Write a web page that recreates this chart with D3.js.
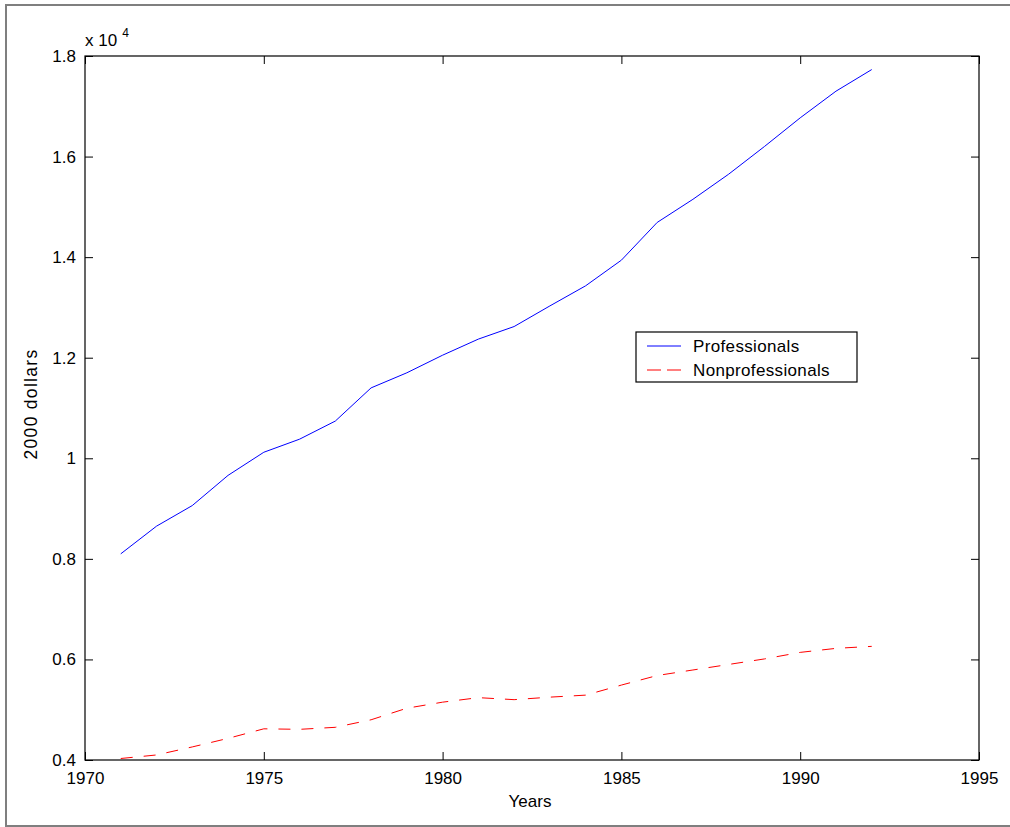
<!DOCTYPE html>
<html>
<head>
<meta charset="utf-8">
<style>
  body { margin: 0; background: #fff; }
  svg { font-family: 'Liberation Sans', Arial, sans-serif; }
  .tick text { font-size: 17px; fill: #000; }
  .axis .domain { display: none; }
  .axis line { stroke: #000; }
</style>
</head>
<body>
<svg width="1010" height="827"></svg>
<script src="https://d3js.org/d3.v7.min.js"></script>
<script>
// real earnings, 2000 dollars
const years = [1971, 1972, 1973, 1974, 1975, 1976, 1977, 1978, 1979, 1980, 1981,
               1982, 1983, 1984, 1985, 1986, 1987, 1988, 1989, 1990, 1991, 1992];
const professionals = [8100, 8650, 9060, 9660, 10120, 10380, 10740, 11400, 11700, 12050, 12370,
                       12620, 13030, 13430, 13940, 14690, 15150, 15650, 16200, 16770, 17300, 17730];
const nonprofessionals = [4030, 4100, 4260, 4430, 4620, 4610, 4650, 4800, 5030, 5150, 5240,
                          5200, 5250, 5290, 5490, 5680, 5790, 5900, 6010, 6140, 6220, 6260];
const xTicks = [1970, 1975, 1980, 1985, 1990, 1995];
const yTicks = [4000, 6000, 8000, 10000, 12000, 14000, 16000, 18000];

const svg = d3.select("svg");
const margin = { top: 56, left: 85 };
const width = 894, height = 704;

// figure border
svg.append("rect")
  .attr("x", 6).attr("y", 5)
  .attr("width", 1010).attr("height", 821)
  .attr("fill", "none").attr("stroke", "#7f7f7f").attr("stroke-width", 2);

const g = svg.append("g").attr("transform", `translate(${margin.left},${margin.top})`);

const x = d3.scaleLinear().domain([1970, 1995]).range([0, width]);
const y = d3.scaleLinear().domain([4000, 18000]).range([height, 0]);

const tickLen = 8;
const fmtY = d => d3.format("~g")(d / 10000);

g.append("g").attr("class", "axis")
  .attr("transform", `translate(0,${height})`)
  .call(d3.axisBottom(x).tickValues(xTicks).tickFormat(d3.format("d"))
    .tickSizeInner(-tickLen).tickSizeOuter(0).tickPadding(12));
g.append("g").attr("class", "axis")
  .call(d3.axisTop(x).tickValues(xTicks).tickFormat("")
    .tickSizeInner(-tickLen).tickSizeOuter(0));
g.append("g").attr("class", "axis")
  .call(d3.axisLeft(y).tickValues(yTicks).tickFormat(fmtY)
    .tickSizeInner(-tickLen).tickSizeOuter(0).tickPadding(9));
g.append("g").attr("class", "axis")
  .attr("transform", `translate(${width},0)`)
  .call(d3.axisRight(y).tickValues(yTicks).tickFormat("")
    .tickSizeInner(-tickLen).tickSizeOuter(0));

g.append("rect")
  .attr("width", width).attr("height", height)
  .attr("fill", "none").attr("stroke", "#000").attr("stroke-width", 1.2);

const line = d3.line().x(d => x(d[0])).y(d => y(d[1]));

g.append("path")
  .datum(d3.zip(years, professionals))
  .attr("d", line)
  .attr("fill", "none").attr("stroke", "#0000ff").attr("stroke-width", 1);

g.append("path")
  .datum(d3.zip(years, nonprofessionals))
  .attr("d", line)
  .attr("fill", "none").attr("stroke", "#ff0000").attr("stroke-width", 1)
  .attr("stroke-dasharray", "12,11");

// exponent label
const ex = svg.append("text")
  .attr("x", 85).attr("y", 46)
  .style("font-size", "17px");
ex.append("tspan").text("x 10");
ex.append("tspan").attr("dx", 5).attr("dy", -9).style("font-size", "12px").text("4");

// axis titles
svg.append("text")
  .attr("x", 530).attr("y", 807)
  .attr("text-anchor", "middle").style("font-size", "17px")
  .text("Years");
svg.append("text")
  .attr("transform", "translate(37,404) rotate(-90)")
  .attr("text-anchor", "middle").style("font-size", "17.5px")
  .style("letter-spacing", "1.3px")
  .text("2000 dollars");

// legend
const legend = svg.append("g").attr("transform", "translate(636,332)");
legend.append("rect")
  .attr("width", 221).attr("height", 50)
  .attr("fill", "#fff").attr("stroke", "#000").attr("stroke-width", 1.2);
const items = [
  { name: "Professionals", color: "#0000ff", dash: null },
  { name: "Nonprofessionals", color: "#ff0000", dash: "14,6" }
];
items.forEach((d, i) => {
  const yy = 14 + i * 24;
  legend.append("line")
    .attr("x1", 11).attr("x2", 45).attr("y1", yy).attr("y2", yy)
    .attr("stroke", d.color).attr("stroke-width", 1)
    .attr("stroke-dasharray", d.dash);
  legend.append("text")
    .attr("x", 57).attr("y", yy + 6)
    .style("font-size", "17px")
    .style("letter-spacing", "0.35px")
    .text(d.name);
});
</script>
</body>
</html>
